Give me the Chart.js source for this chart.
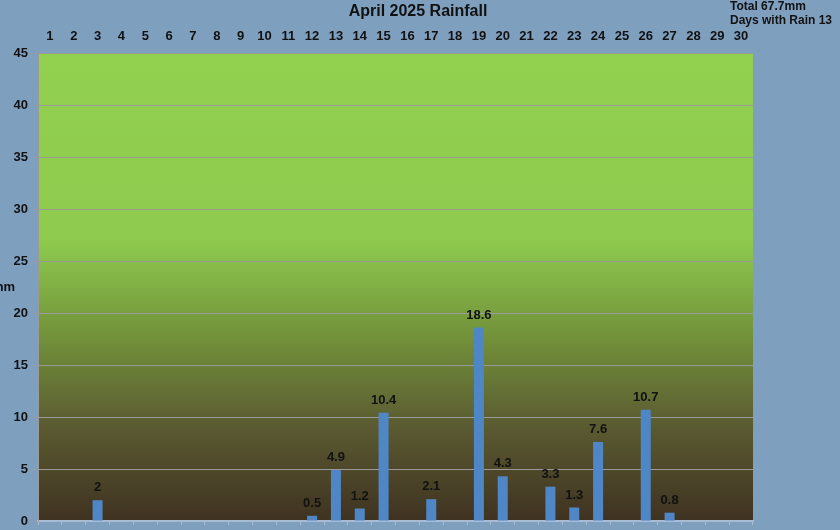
<!DOCTYPE html>
<html>
<head>
<meta charset="utf-8">
<script src="https://cdn.jsdelivr.net/npm/chart.js@4/dist/chart.umd.min.js"></script>
<style>
  body { margin: 0; background: #7f9fbf; }
  canvas { display: block; }
</style>
</head>
<body>
<canvas id="rainChart" width="840" height="530"></canvas>
<script>
const days = ['1','2','3','4','5','6','7','8','9','10','11','12','13','14','15','16','17','18','19','20','21','22','23','24','25','26','27','28','29','30'];
const rainfall = [null, null, 2, null, null, null, null, null, null, null, null, 0.5, 4.9, 1.2, 10.4, null, 2.1, null, 18.6, 4.3, null, 3.3, 1.3, 7.6, null, 10.7, 0.8, null, null, null];
const yTicks = [0, 5, 10, 15, 20, 25, 30, 35, 40, 45];

const FONT = 'Liberation Sans, Arial, sans-serif';
const total = rainfall.reduce((s, v) => s + (v || 0), 0);
const rainDays = rainfall.filter(v => v > 0).length;

// fond dégradé vert -> brun dans la zone du graphique
const plotBg = {
  id: 'plotBg',
  beforeDraw(chart) {
    const { ctx, chartArea: a } = chart;
    const g = ctx.createLinearGradient(0, a.top, 0, a.bottom);
    g.addColorStop(0, '#92d050');
    g.addColorStop(0.4, '#8ecb4e');
    g.addColorStop(0.6, '#73933b');
    g.addColorStop(0.8, '#5a5a31');
    g.addColorStop(1, '#3f3221');
    ctx.save();
    ctx.fillStyle = g;
    ctx.fillRect(a.left, a.top, a.right - a.left, a.bottom - a.top);
    ctx.restore();
  }
};

// valeurs au-dessus des barres, étiquettes de l'axe Y et textes
const extras = {
  id: 'extras',
  afterDatasetsDraw(chart) {
    const { ctx } = chart;
    const meta = chart.getDatasetMeta(0);
    const yScale = chart.scales.y;
    ctx.save();
    ctx.fillStyle = '#111';
    ctx.font = 'bold 13px ' + FONT;
    ctx.textAlign = 'center';
    ctx.textBaseline = 'bottom';
    meta.data.forEach((bar, i) => {
      if (rainfall[i] == null) return;
      ctx.fillText(String(rainfall[i]), bar.x, bar.y - 6);
    });

    ctx.textAlign = 'right';
    ctx.textBaseline = 'middle';
    yTicks.forEach(v => {
      ctx.fillText(String(v), 28, yScale.getPixelForValue(v));
    });
    ctx.fillText('mm', 15, 287);

    ctx.font = 'bold 16px ' + FONT;
    ctx.textAlign = 'center';
    ctx.fillText('April 2025 Rainfall', 418, 12);

    ctx.font = 'bold 12px ' + FONT;
    ctx.textAlign = 'left';
    ctx.fillText('Total ' + total.toFixed(1) + 'mm', 730, 7);
    ctx.fillText('Days with Rain ' + rainDays, 730, 21);
    ctx.restore();
  }
};

new Chart(document.getElementById('rainChart').getContext('2d'), {
  type: 'bar',
  data: {
    labels: days,
    datasets: [{
      data: rainfall,
      backgroundColor: '#4f86c6',
      categoryPercentage: 0.84,
      barPercentage: 0.5
    }]
  },
  options: {
    responsive: false,
    animation: false,
    layout: { padding: { left: 0, top: 0, right: 87, bottom: 0 } },
    plugins: { legend: { display: false }, tooltip: { enabled: false } },
    scales: {
      x: {
        position: 'top',
        offset: true,
        grid: { display: false, drawTicks: false },
        border: { display: false },
        ticks: { color: '#111', font: { family: FONT, size: 13, weight: 'bold' }, padding: 9, maxRotation: 0, autoSkip: false },
        afterFit: s => { s.height = 53; }
      },
      x2: {
        type: 'category',
        labels: days,
        position: 'bottom',
        offset: true,
        grid: { drawOnChartArea: false, color: '#a8bcd6', tickLength: 4, offset: true },
        border: { color: '#a8bcd6', width: 2 },
        ticks: { display: false },
        afterFit: s => { s.height = 9; }
      },
      y: {
        min: 0,
        max: 45,
        afterBuildTicks: s => { s.ticks = yTicks.map(v => ({ value: v })); },
        grid: { color: '#9a9a9a', tickLength: 5 },
        border: { color: '#9a9a9a' },
        ticks: { display: false },
        afterFit: s => { s.width = 38; }
      }
    }
  },
  plugins: [plotBg, extras]
});
</script>
</body>
</html>
